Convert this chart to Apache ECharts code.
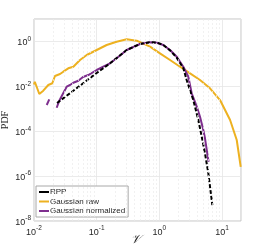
<!DOCTYPE html>
<html><head><meta charset="utf-8">
<script src="https://cdn.jsdelivr.net/npm/echarts@6/dist/echarts.min.js"></script>
<style>html,body{margin:0;padding:0;background:#fff}#c{width:266px;height:249px}</style>
</head><body><div id="c"></div>
<script>
// ---- data (x = V, y = PDF) ----
const rppX = [0.0233, 0.0324, 0.0419, 0.0542, 0.0726, 0.1, 0.163, 0.301, 0.491, 0.708, 0.906, 1.154, 1.476, 1.888, 2.405, 2.72, 3.47, 4.17, 4.73, 5.33, 6.03, 6.98];
const rppY = [0.00181, 0.00363, 0.00618, 0.0107, 0.02, 0.0393, 0.106, 0.416, 0.769, 0.916, 0.89, 0.694, 0.40, 0.19, 0.065, 0.0191, 0.00245, 3.16e-4, 5.7e-5, 1.03e-5, 1.33e-6, 5.1e-8];

const rawX = [0.01, 0.0103, 0.01215, 0.01406, 0.0169, 0.0196, 0.0216, 0.026, 0.0293, 0.0352, 0.0424, 0.0542, 0.0693, 0.1, 0.144, 0.208, 0.301, 0.434, 0.708, 1.02, 1.476, 2.13, 3.08, 4.44, 6.41, 9.26, 13.4, 17.1, 19.8];
const rawY = [0.012, 0.016, 0.00455, 0.00638, 0.0115, 0.0137, 0.0288, 0.0354, 0.0449, 0.0636, 0.0749, 0.149, 0.249, 0.416, 0.694, 0.973, 1.245, 1.08, 0.583, 0.296, 0.149, 0.0749, 0.038, 0.0191, 0.00816, 0.00245, 3.16e-4, 4.07e-5, 2.6e-6];

const normSegX = [0.01596, 0.01753];
const normSegY = [0.00147, 0.00264];
const normX = [0.023, 0.0253, 0.0277, 0.0332, 0.0375, 0.0424, 0.0509, 0.0604, 0.0734, 0.1, 0.127, 0.163, 0.22, 0.301, 0.491, 0.708, 0.906, 1.154, 1.476, 1.888, 2.405, 2.89, 3.27, 3.94, 4.44, 5.01, 5.33, 5.68, 6.02, 6.11];
const normY = [0.00111, 0.00229, 0.00371, 0.00961, 0.01146, 0.0145, 0.0178, 0.026, 0.0319, 0.0534, 0.0749, 0.106, 0.203, 0.416, 0.769, 0.916, 0.879, 0.694, 0.416, 0.209, 0.0749, 0.0269, 0.00489, 0.00124, 4.43e-4, 1.13e-4, 4.83e-5, 4.06e-5, 5.2e-6, 4.4e-6];

const seriesNames = ['RPP', 'Gaussian raw', 'Gaussian normalized'];
const xMinorGrid = [0.02,0.03,0.04,0.05,0.06,0.07,0.08,0.09,0.2,0.3,0.4,0.5,0.6,0.7,0.8,0.9,2,3,4,5,6,7,8,9];
const yMin = 1e-8, yMax = 10, xMin = 0.01, xMax = 20;

const zip = (a, b) => a.map((v, i) => [v, b[i]]);
const SANS = 'Liberation Sans, Arial, sans-serif';
const TXT = '#262626';
const rich = {
  b: {fontSize: 9, color: TXT, fontFamily: SANS, verticalAlign: 'bottom', lineHeight: 10},
  s: {fontSize: 6.5, color: TXT, fontFamily: SANS, verticalAlign: 'bottom', padding: [0, 0, 5, 0]}
};
const fmt = (lastExp) => (v) => {
  const e = Math.round(Math.log10(v));
  if (Math.abs(Math.log10(v) - e) > 1e-6 || e > lastExp) return '';
  return '{b|10}{s|' + e + '}';
};

const chart = echarts.init(document.getElementById('c'), null, {renderer: 'canvas'});
chart.setOption({
  animation: false,
  backgroundColor: '#fff',
  grid: {left: 34, top: 19, width: 207, height: 202, containLabel: false, outerBoundsMode: 'none',
    show: true, borderColor: '#c4c4c4', borderWidth: 1, backgroundColor: 'transparent'},
  legend: {
    data: seriesNames, orient: 'vertical', left: 36, top: 186,
    backgroundColor: '#fff', borderColor: '#a8a8a8', borderWidth: 1, borderRadius: 0,
    padding: [2, 3, 2, 3], itemGap: 1.5, itemWidth: 10, itemHeight: 2, icon: 'rect',
    textStyle: {fontSize: 8, fontFamily: SANS, color: TXT, padding: [0, 0, 0, -4]}
  },
  xAxis: {
    type: 'log', logBase: 10, min: xMin, max: xMax, interval: 1,
    name: '𝒱', nameLocation: 'middle', nameGap: 13, nameMoveOverlap: false,
    nameTextStyle: {fontFamily: 'DejaVu Serif, Liberation Serif, serif', fontStyle: 'italic', fontSize: 12, color: TXT, padding: [0, 4, 0, 0]},
    axisLine: {show: false}, axisTick: {show: false}, minorTick: {show: false},
    axisLabel: {formatter: fmt(1), rich: rich, margin: 4, showMaxLabel: false, hideOverlap: false},
    splitLine: {show: true, lineStyle: {color: '#e6e6e6', width: 0.8}}, minorSplitLine: {show: false}
  },
  yAxis: {
    type: 'log', logBase: 10, min: yMin, max: yMax, interval: 2,
    name: 'PDF', nameLocation: 'middle', nameGap: 24, nameMoveOverlap: false,
    nameTextStyle: {fontFamily: 'Liberation Serif, Times New Roman, serif', fontSize: 10, color: TXT},
    axisLine: {show: false}, axisTick: {show: false}, minorTick: {show: false},
    axisLabel: {formatter: fmt(0), rich: rich, margin: 3, showMaxLabel: false, hideOverlap: false},
    splitLine: {show: true, lineStyle: {color: '#e6e6e6', width: 0.8}}, minorSplitLine: {show: false}
  },
  series: [
    {
      name: 'Gaussian raw', type: 'line', data: zip(rawX, rawY), showSymbol: false, z: 2,
      lineStyle: {color: '#EDB120', width: 2}, itemStyle: {color: '#EDB120'},
      markLine: {silent: true, symbol: 'none', label: {show: false}, animation: false,
        lineStyle: {color: '#ebebeb', type: [2, 2], width: 0.7},
        data: xMinorGrid.map(v => [{coord: [v, yMin]}, {coord: [v, yMax]}])}
    },
    {
      name: 'Gaussian normalized', type: 'line', data: zip(normSegX, normSegY), showSymbol: false, z: 3,
      lineStyle: {color: '#7E2F8E', width: 2}, itemStyle: {color: '#7E2F8E'}
    },
    {
      name: 'Gaussian normalized', type: 'line', data: zip(normX, normY), showSymbol: false, z: 3,
      lineStyle: {color: '#7E2F8E', width: 2}, itemStyle: {color: '#7E2F8E'}
    },
    {
      name: 'RPP', type: 'line', data: zip(rppX, rppY), showSymbol: false, z: 4,
      lineStyle: {color: '#000000', width: 2, type: [4, 2]}, itemStyle: {color: '#000000'}
    }
  ]
});
</script>
</body></html>
